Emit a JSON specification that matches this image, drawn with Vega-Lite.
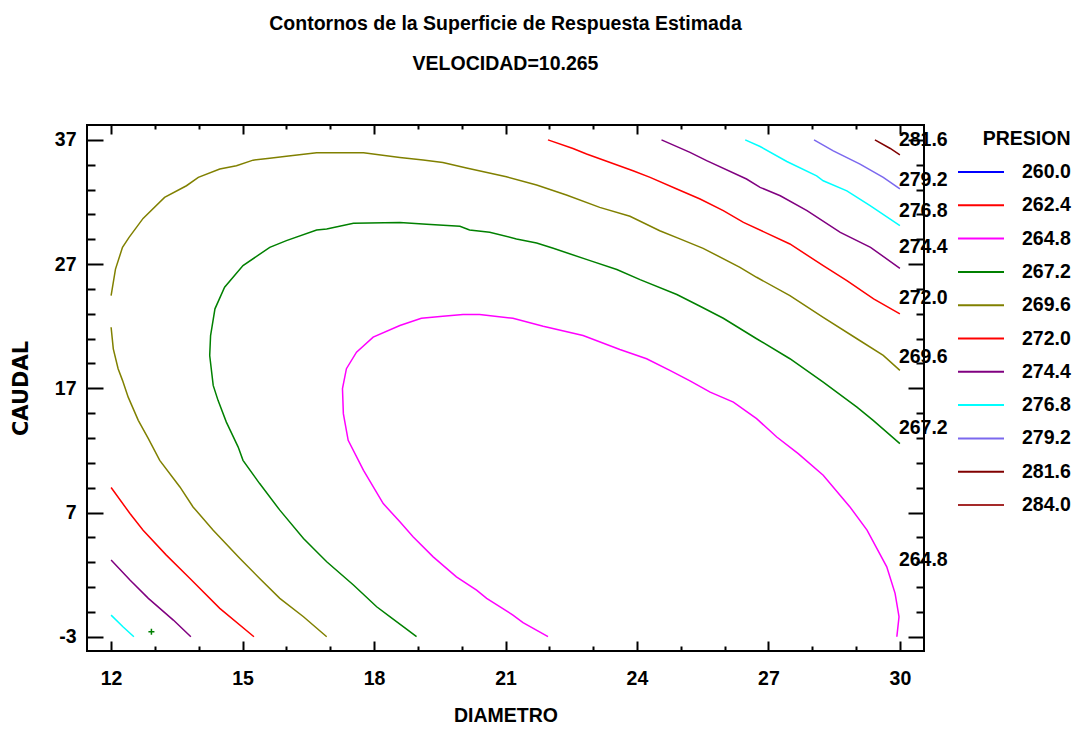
{
"$schema": "https://vega.github.io/schema/vega-lite/v6.json",
"width": 837, "height": 526,
"autosize": "none",
"padding": {"left": 87, "top": 125, "right": 149, "bottom": 78},
"background": "white",
"title": {"text": ["Contornos de la Superficie de Respuesta Estimada", "VELOCIDAD=10.265"], "anchor": "middle", "font": "Liberation Sans, Arial, sans-serif", "fontSize": 19.5, "fontWeight": "bold", "color": "black", "lineHeight": 40, "offset": 50},
"config": {
 "view": {"stroke": "black", "strokeWidth": 2},
 "axis": {"domain": false, "grid": false, "tickColor": "black", "tickWidth": 2, "labelFont": "Liberation Sans, Arial, sans-serif", "labelFontSize": 19.5, "labelFontWeight": "bold", "labelColor": "black", "titleFont": "Liberation Sans, Arial, sans-serif", "titleFontSize": 19.5, "titleFontWeight": "bold", "titleColor": "black"}
},
"datasets": {
 "contours": [
  {"level":"264.8","seg":"264.8","i":0,"x":21.97,"y":-3},{"level":"264.8","seg":"264.8","i":1,"x":21.4,"y":-1.87},{"level":"264.8","seg":"264.8","i":2,"x":21.17,"y":-1.26},{"level":"264.8","seg":"264.8","i":3,"x":20.57,"y":0.09},{"level":"264.8","seg":"264.8","i":4,"x":20.34,"y":0.75},{"level":"264.8","seg":"264.8","i":5,"x":19.88,"y":1.82},{"level":"264.8","seg":"264.8","i":6,"x":19.35,"y":3.43},{"level":"264.8","seg":"264.8","i":7,"x":18.89,"y":5.05},{"level":"264.8","seg":"264.8","i":8,"x":18.59,"y":6.25},{"level":"264.8","seg":"264.8","i":9,"x":18.21,"y":7.72},{"level":"264.8","seg":"264.8","i":10,"x":17.76,"y":10.4},{"level":"264.8","seg":"264.8","i":11,"x":17.41,"y":12.81},{"level":"264.8","seg":"264.8","i":12,"x":17.3,"y":14.96},{"level":"264.8","seg":"264.8","i":13,"x":17.28,"y":16.97},{"level":"264.8","seg":"264.8","i":14,"x":17.37,"y":18.58},{"level":"264.8","seg":"264.8","i":15,"x":17.6,"y":19.91},{"level":"264.8","seg":"264.8","i":16,"x":17.98,"y":21.12},{"level":"264.8","seg":"264.8","i":17,"x":18.59,"y":22.06},{"level":"264.8","seg":"264.8","i":18,"x":19.08,"y":22.64},{"level":"264.8","seg":"264.8","i":19,"x":19.57,"y":22.8},{"level":"264.8","seg":"264.8","i":20,"x":20.03,"y":22.94},{"level":"264.8","seg":"264.8","i":21,"x":20.41,"y":22.94},{"level":"264.8","seg":"264.8","i":22,"x":21.17,"y":22.64},{"level":"264.8","seg":"264.8","i":23,"x":21.86,"y":22.0},{"level":"264.8","seg":"264.8","i":24,"x":22.77,"y":21.25},{"level":"264.8","seg":"264.8","i":25,"x":23.61,"y":20.13},{"level":"264.8","seg":"264.8","i":26,"x":24.22,"y":19.38},{"level":"264.8","seg":"264.8","i":27,"x":24.75,"y":18.44},{"level":"264.8","seg":"264.8","i":28,"x":25.21,"y":17.6},{"level":"264.8","seg":"264.8","i":29,"x":25.67,"y":16.69},{"level":"264.8","seg":"264.8","i":30,"x":26.2,"y":15.89},{"level":"264.8","seg":"264.8","i":31,"x":26.73,"y":14.56},{"level":"264.8","seg":"264.8","i":32,"x":27.19,"y":13.08},{"level":"264.8","seg":"264.8","i":33,"x":27.68,"y":11.74},{"level":"264.8","seg":"264.8","i":34,"x":28.25,"y":10.0},{"level":"264.8","seg":"264.8","i":35,"x":28.86,"y":7.45},{"level":"264.8","seg":"264.8","i":36,"x":29.25,"y":5.58},{"level":"264.8","seg":"264.8","i":37,"x":29.7,"y":2.63},{"level":"264.8","seg":"264.8","i":38,"x":29.89,"y":0.49},{"level":"264.8","seg":"264.8","i":39,"x":29.98,"y":-1.39},{"level":"264.8","seg":"264.8","i":40,"x":29.93,"y":-3},
  {"level":"267.2","seg":"267.2","i":0,"x":18.97,"y":-3},{"level":"267.2","seg":"267.2","i":1,"x":18.75,"y":-2.41},{"level":"267.2","seg":"267.2","i":2,"x":18.36,"y":-1.39},{"level":"267.2","seg":"267.2","i":3,"x":18.06,"y":-0.59},{"level":"267.2","seg":"267.2","i":4,"x":17.53,"y":1.16},{"level":"267.2","seg":"267.2","i":5,"x":16.92,"y":3.03},{"level":"267.2","seg":"267.2","i":6,"x":16.39,"y":4.91},{"level":"267.2","seg":"267.2","i":7,"x":15.85,"y":7.19},{"level":"267.2","seg":"267.2","i":8,"x":15.39,"y":9.33},{"level":"267.2","seg":"267.2","i":9,"x":15.01,"y":11.2},{"level":"267.2","seg":"267.2","i":10,"x":14.9,"y":12.27},{"level":"267.2","seg":"267.2","i":11,"x":14.63,"y":14.28},{"level":"267.2","seg":"267.2","i":12,"x":14.44,"y":16.03},{"level":"267.2","seg":"267.2","i":13,"x":14.33,"y":17.23},{"level":"267.2","seg":"267.2","i":14,"x":14.25,"y":19.64},{"level":"267.2","seg":"267.2","i":15,"x":14.27,"y":21.25},{"level":"267.2","seg":"267.2","i":16,"x":14.37,"y":23.4},{"level":"267.2","seg":"267.2","i":17,"x":14.59,"y":25.14},{"level":"267.2","seg":"267.2","i":18,"x":15.01,"y":26.88},{"level":"267.2","seg":"267.2","i":19,"x":15.62,"y":28.35},{"level":"267.2","seg":"267.2","i":20,"x":16.0,"y":28.89},{"level":"267.2","seg":"267.2","i":21,"x":16.69,"y":29.75},{"level":"267.2","seg":"267.2","i":22,"x":16.92,"y":29.83},{"level":"267.2","seg":"267.2","i":23,"x":17.53,"y":30.28},{"level":"267.2","seg":"267.2","i":24,"x":18.59,"y":30.34},{"level":"267.2","seg":"267.2","i":25,"x":19.2,"y":30.2},{"level":"267.2","seg":"267.2","i":26,"x":19.96,"y":30.04},{"level":"267.2","seg":"267.2","i":27,"x":20.18,"y":29.75},{"level":"267.2","seg":"267.2","i":28,"x":20.64,"y":29.56},{"level":"267.2","seg":"267.2","i":29,"x":21.25,"y":29.03},{"level":"267.2","seg":"267.2","i":30,"x":21.71,"y":28.7},{"level":"267.2","seg":"267.2","i":31,"x":22.09,"y":28.27},{"level":"267.2","seg":"267.2","i":32,"x":22.93,"y":27.28},{"level":"267.2","seg":"267.2","i":33,"x":23.54,"y":26.56},{"level":"267.2","seg":"267.2","i":34,"x":24.07,"y":25.75},{"level":"267.2","seg":"267.2","i":35,"x":24.91,"y":24.55},{"level":"267.2","seg":"267.2","i":36,"x":25.44,"y":23.61},{"level":"267.2","seg":"267.2","i":37,"x":25.97,"y":22.64},{"level":"267.2","seg":"267.2","i":38,"x":26.73,"y":20.99},{"level":"267.2","seg":"267.2","i":39,"x":27.49,"y":19.38},{"level":"267.2","seg":"267.2","i":40,"x":28.25,"y":17.5},{"level":"267.2","seg":"267.2","i":41,"x":29.02,"y":15.49},{"level":"267.2","seg":"267.2","i":42,"x":29.39,"y":14.42},{"level":"267.2","seg":"267.2","i":43,"x":30.0,"y":12.55},
  {"level":"269.6","seg":"269.6a","i":0,"x":12.0,"y":21.92},{"level":"269.6","seg":"269.6a","i":1,"x":12.05,"y":20.18},{"level":"269.6","seg":"269.6a","i":2,"x":12.16,"y":18.58},{"level":"269.6","seg":"269.6a","i":3,"x":12.26,"y":17.64},{"level":"269.6","seg":"269.6a","i":4,"x":12.39,"y":16.29},{"level":"269.6","seg":"269.6a","i":5,"x":12.62,"y":14.42},{"level":"269.6","seg":"269.6a","i":6,"x":12.85,"y":12.95},{"level":"269.6","seg":"269.6a","i":7,"x":13.11,"y":11.2},{"level":"269.6","seg":"269.6a","i":8,"x":13.57,"y":9.06},{"level":"269.6","seg":"269.6a","i":9,"x":13.87,"y":7.45},{"level":"269.6","seg":"269.6a","i":10,"x":14.33,"y":5.58},{"level":"269.6","seg":"269.6a","i":11,"x":14.94,"y":3.3},{"level":"269.6","seg":"269.6a","i":12,"x":15.39,"y":1.69},{"level":"269.6","seg":"269.6a","i":13,"x":15.85,"y":0.09},{"level":"269.6","seg":"269.6a","i":14,"x":16.39,"y":-1.39},{"level":"269.6","seg":"269.6a","i":15,"x":16.92,"y":-3},
  {"level":"269.6","seg":"269.6b","i":0,"x":12.0,"y":24.47},{"level":"269.6","seg":"269.6b","i":1,"x":12.1,"y":26.6},{"level":"269.6","seg":"269.6b","i":2,"x":12.26,"y":28.35},{"level":"269.6","seg":"269.6b","i":3,"x":12.41,"y":29.15},{"level":"269.6","seg":"269.6b","i":4,"x":12.73,"y":30.68},{"level":"269.6","seg":"269.6b","i":5,"x":13.22,"y":32.37},{"level":"269.6","seg":"269.6b","i":6,"x":13.72,"y":33.31},{"level":"269.6","seg":"269.6b","i":7,"x":13.99,"y":33.98},{"level":"269.6","seg":"269.6b","i":8,"x":14.48,"y":34.65},{"level":"269.6","seg":"269.6b","i":9,"x":14.86,"y":34.92},{"level":"269.6","seg":"269.6b","i":10,"x":15.24,"y":35.37},{"level":"269.6","seg":"269.6b","i":11,"x":15.62,"y":35.53},{"level":"269.6","seg":"269.6b","i":12,"x":16.0,"y":35.69},{"level":"269.6","seg":"269.6b","i":13,"x":16.69,"y":35.96},{"level":"269.6","seg":"269.6b","i":14,"x":17.76,"y":35.96},{"level":"269.6","seg":"269.6b","i":15,"x":18.59,"y":35.59},{"level":"269.6","seg":"269.6b","i":16,"x":19.12,"y":35.38},{"level":"269.6","seg":"269.6b","i":17,"x":19.57,"y":35.18},{"level":"269.6","seg":"269.6b","i":18,"x":20.11,"y":34.73},{"level":"269.6","seg":"269.6b","i":19,"x":21.02,"y":34.03},{"level":"269.6","seg":"269.6b","i":20,"x":21.71,"y":33.37},{"level":"269.6","seg":"269.6b","i":21,"x":22.39,"y":32.56},{"level":"269.6","seg":"269.6b","i":22,"x":23.15,"y":31.57},{"level":"269.6","seg":"269.6b","i":23,"x":23.84,"y":30.85},{"level":"269.6","seg":"269.6b","i":24,"x":24.52,"y":29.69},{"level":"269.6","seg":"269.6b","i":25,"x":24.98,"y":29.03},{"level":"269.6","seg":"269.6b","i":26,"x":25.51,"y":28.27},{"level":"269.6","seg":"269.6b","i":27,"x":26.35,"y":26.74},{"level":"269.6","seg":"269.6b","i":28,"x":26.73,"y":25.94},{"level":"269.6","seg":"269.6b","i":29,"x":27.49,"y":24.47},{"level":"269.6","seg":"269.6b","i":30,"x":28.25,"y":22.72},{"level":"269.6","seg":"269.6b","i":31,"x":29.02,"y":20.99},{"level":"269.6","seg":"269.6b","i":32,"x":29.62,"y":19.65},{"level":"269.6","seg":"269.6b","i":33,"x":30.0,"y":18.44},
  {"level":"272.0","seg":"272.0a","i":0,"x":12.0,"y":9.01},{"level":"272.0","seg":"272.0a","i":1,"x":12.43,"y":6.92},{"level":"272.0","seg":"272.0a","i":2,"x":12.73,"y":5.58},{"level":"272.0","seg":"272.0a","i":3,"x":13.26,"y":3.57},{"level":"272.0","seg":"272.0a","i":4,"x":13.8,"y":1.69},{"level":"272.0","seg":"272.0a","i":5,"x":14.48,"y":-0.72},{"level":"272.0","seg":"272.0a","i":6,"x":15.26,"y":-3},
  {"level":"272.0","seg":"272.0b","i":0,"x":21.97,"y":37},{"level":"272.0","seg":"272.0b","i":1,"x":22.54,"y":36.31},{"level":"272.0","seg":"272.0b","i":2,"x":22.85,"y":35.86},{"level":"272.0","seg":"272.0b","i":3,"x":23.91,"y":34.52},{"level":"272.0","seg":"272.0b","i":4,"x":24.3,"y":33.98},{"level":"272.0","seg":"272.0b","i":5,"x":24.91,"y":33.05},{"level":"272.0","seg":"272.0b","i":6,"x":25.44,"y":32.24},{"level":"272.0","seg":"272.0b","i":7,"x":25.97,"y":31.3},{"level":"272.0","seg":"272.0b","i":8,"x":26.43,"y":30.36},{"level":"272.0","seg":"272.0b","i":9,"x":27.49,"y":28.62},{"level":"272.0","seg":"272.0b","i":10,"x":28.25,"y":26.88},{"level":"272.0","seg":"272.0b","i":11,"x":28.79,"y":25.67},{"level":"272.0","seg":"272.0b","i":12,"x":29.4,"y":24.2},{"level":"272.0","seg":"272.0b","i":13,"x":30.0,"y":23.0},
  {"level":"274.4","seg":"274.4a","i":0,"x":12.0,"y":3.17},{"level":"274.4","seg":"274.4a","i":1,"x":12.43,"y":1.56},{"level":"274.4","seg":"274.4a","i":2,"x":12.85,"y":0.09},{"level":"274.4","seg":"274.4a","i":3,"x":13.42,"y":-1.66},{"level":"274.4","seg":"274.4a","i":4,"x":13.82,"y":-3},
  {"level":"274.4","seg":"274.4b","i":0,"x":24.56,"y":37},{"level":"274.4","seg":"274.4b","i":1,"x":25.21,"y":36.0},{"level":"274.4","seg":"274.4b","i":2,"x":25.59,"y":35.33},{"level":"274.4","seg":"274.4b","i":3,"x":26.5,"y":33.85},{"level":"274.4","seg":"274.4b","i":4,"x":26.81,"y":33.18},{"level":"274.4","seg":"274.4b","i":5,"x":27.27,"y":32.5},{"level":"274.4","seg":"274.4b","i":6,"x":27.88,"y":31.3},{"level":"274.4","seg":"274.4b","i":7,"x":28.64,"y":29.56},{"level":"274.4","seg":"274.4b","i":8,"x":29.33,"y":28.35},{"level":"274.4","seg":"274.4b","i":9,"x":30.0,"y":26.66},
  {"level":"276.8","seg":"276.8a","i":0,"x":12.0,"y":-1.26},{"level":"276.8","seg":"276.8a","i":1,"x":12.27,"y":-2.2},{"level":"276.8","seg":"276.8a","i":2,"x":12.52,"y":-3},
  {"level":"276.8","seg":"276.8b","i":0,"x":26.47,"y":37},{"level":"276.8","seg":"276.8b","i":1,"x":26.81,"y":36.47},{"level":"276.8","seg":"276.8b","i":2,"x":27.42,"y":35.26},{"level":"276.8","seg":"276.8b","i":3,"x":28.1,"y":34.11},{"level":"276.8","seg":"276.8b","i":4,"x":28.25,"y":33.71},{"level":"276.8","seg":"276.8b","i":5,"x":28.79,"y":32.9},{"level":"276.8","seg":"276.8b","i":6,"x":29.32,"y":31.7},{"level":"276.8","seg":"276.8b","i":7,"x":30.0,"y":30.1},
  {"level":"279.2","seg":"279.2","i":0,"x":28.04,"y":37},{"level":"279.2","seg":"279.2","i":1,"x":28.48,"y":36.12},{"level":"279.2","seg":"279.2","i":2,"x":29.09,"y":35.05},{"level":"279.2","seg":"279.2","i":3,"x":29.62,"y":33.98},{"level":"279.2","seg":"279.2","i":4,"x":30.0,"y":33.05},
  {"level":"281.6","seg":"281.6","i":0,"x":29.43,"y":37},{"level":"281.6","seg":"281.6","i":1,"x":29.78,"y":36.31},{"level":"281.6","seg":"281.6","i":2,"x":30.0,"y":35.8}
 ],
 "labels": [
  {"t":"281.6","x":30,"y":36.96},{"t":"279.2","x":30,"y":33.75},{"t":"276.8","x":30,"y":31.25},{"t":"274.4","x":30,"y":28.36},{"t":"272.0","x":30,"y":24.26},{"t":"269.6","x":30,"y":19.51},{"t":"267.2","x":30,"y":13.8},{"t":"264.8","x":30,"y":3.17}
 ],
 "marker": [{"x":12.92,"y":-2.6}]
},
"layer": [
 {
  "data": {"name": "contours"},
  "mark": {"type": "line", "strokeWidth": 1.5, "clip": true},
  "encoding": {
   "x": {"field": "x", "type": "quantitative", "scale": {"domain": [11.45, 30.55], "nice": false, "zero": false},
     "axis": {"orient": "bottom", "values": [12,15,18,21,24,27,30], "tickSize": -10, "labelPadding": 28, "title": "DIAMETRO", "titlePadding": 19}},
   "y": {"field": "y", "type": "quantitative", "scale": {"domain": [-4.15, 38.2], "nice": false, "zero": false},
     "axis": {"orient": "left", "values": [-3,7,17,27,37], "tickSize": -16, "labelPadding": 27, "labelExpr": "datum.value < 0 ? '-' + abs(datum.value) : '' + datum.value", "title": "CAUDAL", "titlePadding": 23, "titleFont": "DejaVu Sans", "titleFontSize": 21}},
   "color": {"field": "level", "type": "nominal",
     "scale": {"domain": ["260.0","262.4","264.8","267.2","269.6","272.0","274.4","276.8","279.2","281.6","284.0"],
               "range": ["#0000FF","#FF0000","#FF00FF","#008000","#808000","#FF0000","#800080","#00FFFF","#7B68EE","#800000","#A52A2A"]},
     "legend": {"title": "PRESION", "orient": "none", "legendX": 881.5, "legendY": 5, "padding": 0,
       "titleFont": "Liberation Sans, Arial, sans-serif", "titleFontSize": 19.5, "titleFontWeight": "bold", "titleColor": "black", "titleAnchor": "end", "titlePadding": 10,
       "labelFont": "Liberation Sans, Arial, sans-serif", "labelFontSize": 19.5, "labelFontWeight": "bold", "labelColor": "black", "labelOffset": 28.5,
       "symbolType": "M-2,0H2", "symbolSize": 529, "symbolStrokeWidth": 2, "rowPadding": 11.3}},
   "detail": {"field": "seg"},
   "order": {"field": "i", "type": "quantitative"}
  }
 },
 {
  "data": {"name": "marker"},
  "mark": {"type": "point", "opacity": 0},
  "encoding": {
   "x": {"field": "x", "type": "quantitative", "scale": {"domain": [11.45, 30.55], "nice": false, "zero": false},
     "axis": {"orient": "bottom", "values": [13,14,16,17,19,20,22,23,25,26,28,29], "tickSize": -5, "labels": false, "title": null}},
   "y": {"field": "y", "type": "quantitative", "scale": {"domain": [-4.15, 38.2], "nice": false, "zero": false},
     "axis": {"orient": "left", "values": [-1,1,3,5,9,11,13,15,19,21,23,25,29,31,33,35], "tickSize": -8, "labels": false, "title": null}}
  }
 },
 {
  "data": {"name": "marker"},
  "mark": {"type": "point", "opacity": 0},
  "encoding": {
   "x": {"field": "x", "type": "quantitative", "scale": {"domain": [11.45, 30.55], "nice": false, "zero": false},
     "axis": {"orient": "top", "values": [12,15,18,21,24,27,30], "tickSize": -9, "labels": false, "title": null}},
   "y": {"field": "y", "type": "quantitative", "scale": {"domain": [-4.15, 38.2], "nice": false, "zero": false},
     "axis": {"orient": "right", "values": [-3,7,17,27,37], "tickSize": -16, "labels": false, "title": null}}
  }
 },
 {
  "data": {"name": "marker"},
  "mark": {"type": "point", "opacity": 0},
  "encoding": {
   "x": {"field": "x", "type": "quantitative", "scale": {"domain": [11.45, 30.55], "nice": false, "zero": false},
     "axis": {"orient": "top", "values": [13,14,16,17,19,20,22,23,25,26,28,29], "tickSize": -4, "labels": false, "title": null}},
   "y": {"field": "y", "type": "quantitative", "scale": {"domain": [-4.15, 38.2], "nice": false, "zero": false},
     "axis": {"orient": "right", "values": [-1,1,3,5,9,11,13,15,19,21,23,25,29,31,33,35], "tickSize": -8, "labels": false, "title": null}}
  }
 },
 {
  "data": {"name": "labels"},
  "mark": {"type": "text", "align": "left", "baseline": "middle", "dx": -1, "font": "Liberation Sans, Arial, sans-serif", "fontSize": 19.5, "fontWeight": "bold", "color": "black"},
  "encoding": {
   "x": {"field": "x", "type": "quantitative", "scale": {"domain": [11.45, 30.55], "nice": false, "zero": false}, "axis": null},
   "y": {"field": "y", "type": "quantitative", "scale": {"domain": [-4.15, 38.2], "nice": false, "zero": false}, "axis": null},
   "text": {"field": "t"}
  }
 },
 {
  "data": {"name": "marker"},
  "mark": {"type": "point", "shape": "M-1,0H1M0,-1V1", "filled": false, "size": 36, "strokeWidth": 1.5, "color": "#008000", "opacity": 1},
  "encoding": {
   "x": {"field": "x", "type": "quantitative", "scale": {"domain": [11.45, 30.55], "nice": false, "zero": false}, "axis": null},
   "y": {"field": "y", "type": "quantitative", "scale": {"domain": [-4.15, 38.2], "nice": false, "zero": false}, "axis": null}
  }
 }
],
"resolve": {"axis": {"x": "independent", "y": "independent"}}
}
